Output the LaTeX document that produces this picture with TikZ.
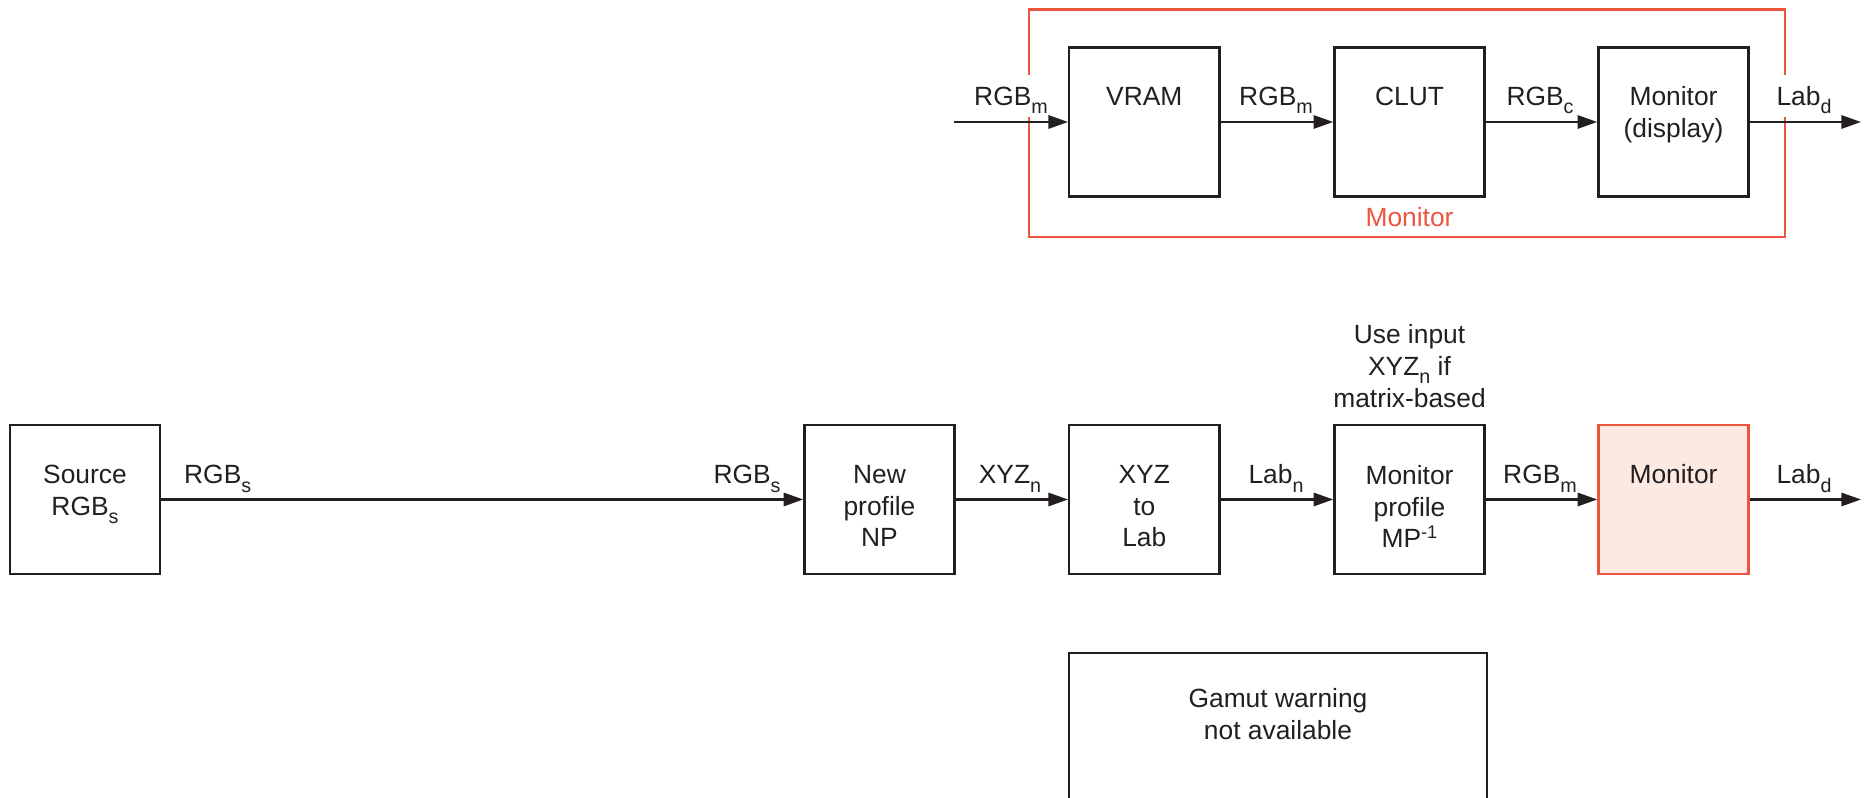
\documentclass[tikz,border=0pt]{standalone}
\usepackage{fontspec}
\setmainfont{Liberation Sans}
\usetikzlibrary{arrows.meta}
\definecolor{mred}{RGB}{236,86,62}
\definecolor{mpink}{RGB}{252,233,226}
\definecolor{ink}{RGB}{35,31,32}
\newcommand{\dn}[1]{\raisebox{-2.3pt}{\fontsize{5.6}{6}\selectfont #1}}
\newcommand{\upr}[1]{\raisebox{2.7pt}{\fontsize{5.2}{6}\selectfont #1}}
\begin{document}
\begin{tikzpicture}[x=0.01cm,y=-0.01cm,
 box/.style={draw=ink,line width=0.7pt,minimum width=1.50cm,minimum height=1.49cm,inner sep=0pt},
 txt/.style={text=ink,font=\fontsize{7.5}{9}\selectfont,align=center,inner sep=0pt},
 arr/.style={draw=ink,line width=0.6pt,-{Triangle[length=5.6pt,width=3.8pt]}},
 frame/.style={draw=mred,line width=0.6pt},
]
\useasboundingbox (0,0) rectangle (1865,798);

% ---------- top row ----------
\draw[frame] (1028.8,75) -- (1028.8,9.5) -- (1785.3,9.5) -- (1785.3,75);
\draw[frame] (1028.8,117) -- (1028.8,236.7) -- (1785.3,236.7) -- (1785.3,117);
\node[txt,text=mred,anchor=base] (framelbl) at (1409.5,227) {Monitor};

\node[box] (vram) at (1144.3,122) {};
\node[box] (clut) at (1409.5,122) {};
\node[box] (disp) at (1673.5,122) {};
\node[txt,anchor=base] (vramt) at (1144.3,105.5) {VRAM};
\node[txt,anchor=base] (clutt) at (1409.5,105.5) {CLUT};
\node[txt,anchor=north] (dispt) at (1673.5,86) {Monitor\\(display)};

\coordinate (tin) at (954,122);
\coordinate (tout) at (1861,122);
\draw[arr] (tin) -- (vram.west);
\draw[arr] (vram.east) -- (clut.west);
\draw[arr] (clut.east) -- (disp.west);
\draw[arr] (disp.east) -- (tout);

\node[txt,anchor=base] (l1) at (1011,105.5) {RGB\dn{m}};
\node[txt,anchor=base] (l2) at (1276,105.5) {RGB\dn{m}};
\node[txt,anchor=base] (l3) at (1540,105.5) {RGB\dn{c}};
\node[txt,anchor=base] (l4) at (1804,105.5) {Lab\dn{d}};

% ---------- middle row ----------
\node[box] (src) at (85,499.5) {};
\node[box] (np) at (879.5,499.5) {};
\node[box] (xyz) at (1144.3,499.5) {};
\node[box] (mp) at (1409.5,499.5) {};
\node[box,draw=mred,fill=mpink] (mon) at (1673.5,499.5) {};

\node[txt,anchor=north] (srct) at (85,464.6) {Source\\RGB\dn{s}};
\node[txt,anchor=north] (npt) at (879.5,464.6) {New\\profile\\NP};
\node[txt,anchor=north] (xyzt) at (1144.3,464.6) {XYZ\\to\\Lab};
\node[txt,anchor=north] (mpt) at (1409.5,464.6) {Monitor\\profile\\MP\upr{-1}};
\node[txt,anchor=base] (mont) at (1673.5,484) {Monitor};

\coordinate (mout) at (1861,499.5);
\draw[arr] (src.east) -- (np.west);
\draw[arr] (np.east) -- (xyz.west);
\draw[arr] (xyz.east) -- (mp.west);
\draw[arr] (mp.east) -- (mon.west);
\draw[arr] (mon.east) -- (mout);

\node[txt,anchor=base] (m1) at (217.7,484) {RGB\dn{s}};
\node[txt,anchor=base] (m2) at (747,484) {RGB\dn{s}};
\node[txt,anchor=base] (m3) at (1010,484) {XYZ\dn{n}};
\node[txt,anchor=base] (m4) at (1276,484) {Lab\dn{n}};
\node[txt,anchor=base] (m5) at (1540,484) {RGB\dn{m}};
\node[txt,anchor=base] (m6) at (1804,484) {Lab\dn{d}};

\node[txt,anchor=north] (use) at (1409.5,324) {Use input\\XYZ\dn{n} if\\matrix-based};

% ---------- gamut box ----------
\node[box,minimum width=4.18cm,minimum height=1.90cm] (gam) at (1278,748) {};
\node[txt,anchor=north] (gamt) at (1278,688) {Gamut warning\\not available};
\end{tikzpicture}
\end{document}
